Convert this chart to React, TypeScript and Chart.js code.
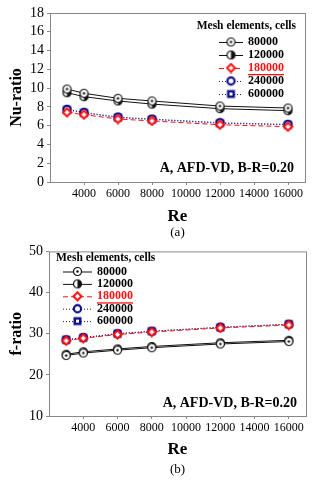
import React, { useEffect, useRef } from 'react';
import { Chart, registerables } from 'chart.js';
Chart.register(...registerables);

const reValues = [3000, 4000, 6000, 8000, 12000, 16000];
const xTickValues = [4000, 6000, 8000, 10000, 12000, 14000, 16000];
const meshLabels = ['80000', '120000', '180000', '240000', '600000'];

const nu80000 = [9.9, 9.45, 8.91, 8.63, 8.09, 7.88];
const nu120000 = [9.51, 9.09, 8.63, 8.3, 7.81, 7.6];
const nu180000 = [7.42, 7.17, 6.71, 6.5, 6.1, 5.89];
const nu240000 = [7.74, 7.42, 6.92, 6.71, 6.32, 6.14];
const nu600000 = [7.68, 7.36, 6.86, 6.65, 6.26, 6.08];

const f80000 = [24.7, 25.3, 26.0, 26.6, 27.5, 28.1];
const f120000 = [25.0, 25.6, 26.3, 26.9, 27.8, 28.4];
const f180000 = [28.3, 28.9, 29.8, 30.4, 31.4, 32.1];
const f240000 = [28.5, 29.1, 30.0, 30.6, 31.6, 32.3];
const f600000 = [28.5, 29.0, 30.0, 30.6, 31.5, 32.3];

const noteText = 'A, AFD-VD, B-R=0.20';
const legendTitle = 'Mesh elements, cells';

const RED = '#ff1010';
const NAVY = '#10108a';
const BLACK = '#111111';
const SERIF = '"Liberation Serif", "Times New Roman", serif';

function makeMarker(kind: string): HTMLCanvasElement {
  const s = 11;
  const c = document.createElement('canvas');
  c.width = s; c.height = s;
  const g = c.getContext('2d')!;
  const cx = 5.5, cy = 5.5;
  if (kind === 'dot') {
    g.beginPath(); g.arc(cx, cy, 4, 0, Math.PI * 2); g.fillStyle = '#fff'; g.fill();
    g.lineWidth = 1.2; g.strokeStyle = BLACK; g.stroke();
    g.beginPath(); g.arc(cx, cy, 1.2, 0, Math.PI * 2); g.fillStyle = BLACK; g.fill();
  } else if (kind === 'half') {
    g.beginPath(); g.arc(cx, cy, 4, 0, Math.PI * 2); g.fillStyle = '#fff'; g.fill();
    g.beginPath(); g.moveTo(cx, cy); g.arc(cx, cy, 4, -Math.PI / 2, Math.PI / 2); g.closePath(); g.fillStyle = BLACK; g.fill();
    g.beginPath(); g.arc(cx, cy, 4, 0, Math.PI * 2); g.lineWidth = 1.2; g.strokeStyle = BLACK; g.stroke();
  } else if (kind === 'diamond') {
    g.beginPath(); g.moveTo(cx, cy - 4); g.lineTo(cx + 4, cy); g.lineTo(cx, cy + 4); g.lineTo(cx - 4, cy); g.closePath();
    g.fillStyle = '#fff'; g.fill(); g.lineWidth = 2; g.strokeStyle = RED; g.stroke();
  } else if (kind === 'ring') {
    g.beginPath(); g.arc(cx, cy, 3.6, 0, Math.PI * 2); g.fillStyle = '#fff'; g.fill();
    g.lineWidth = 2.2; g.strokeStyle = NAVY; g.stroke();
  } else {
    g.fillStyle = NAVY; g.fillRect(cx - 4, cy - 4, 8, 8);
    g.fillStyle = '#fff'; g.fillRect(cx - 1.5, cy - 1.5, 3, 3);
  }
  return c;
}

const frame = {
  id: 'frameLegend',
  afterDraw(chart: any, _a: any, o: any) {
    const { ctx, chartArea: ca } = chart;
    ctx.save();
    ctx.strokeStyle = '#888';
    ctx.lineWidth = 1;
    ctx.strokeRect(ca.left + 0.5, ca.top + 0.5, ca.right - ca.left, ca.bottom - ca.top);
    ctx.fillStyle = '#000';
    ctx.font = 'bold 11.5px ' + SERIF;
    ctx.textBaseline = 'middle';
    ctx.textAlign = o.titleAlign;
    ctx.fillText(legendTitle, o.titleX, o.titleY);
    chart.data.datasets.forEach((ds: any, i: number) => {
      const y = o.rowY0 + i * o.rowGap;
      ctx.save();
      ctx.strokeStyle = ds.borderColor;
      ctx.lineWidth = 1;
      ctx.setLineDash(ds.borderDash || []);
      ctx.beginPath(); ctx.moveTo(o.lineX1, y + 0.5); ctx.lineTo(o.lineX2, y + 0.5); ctx.stroke();
      ctx.restore();
      const img = ds.pointStyle;
      ctx.drawImage(img, (o.lineX1 + o.lineX2) / 2 - img.width / 2, y - img.height / 2);
      ctx.font = 'bold 12px ' + SERIF;
      ctx.textAlign = 'left';
      ctx.fillStyle = i === 2 ? RED : '#000';
      ctx.fillText(ds.label, o.textX, y);
      if (i === 2) {
        const w = ctx.measureText(ds.label).width;
        ctx.fillRect(o.textX, y + 6, w, 1.3);
      }
    });
    ctx.fillStyle = '#000';
    ctx.font = 'bold 14px ' + SERIF;
    ctx.textAlign = 'right';
    ctx.fillText(noteText, o.noteX, o.noteY);
    ctx.font = '13px ' + SERIF;
    ctx.textAlign = 'center';
    ctx.fillText(o.caption, (ca.left + ca.right) / 2, o.captionY);
    ctx.restore();
  },
};

function buildDatasets(series: number[][]) {
  const kinds = ['dot', 'half', 'diamond', 'ring', 'square'];
  const colors = [BLACK, BLACK, RED, NAVY, NAVY];
  const dashes = [[], [], [5, 3], [1, 2], [1, 2]];
  return series.map((vals, i) => ({
    label: meshLabels[i],
    data: vals.map((v, j) => ({ x: reValues[j], y: v })),
    borderColor: colors[i],
    borderWidth: 1,
    borderDash: dashes[i],
    pointStyle: makeMarker(kinds[i]),
    pointRadius: 4,
    fill: false,
    tension: 0,
  }));
}

function PanelChart(props: any) {
  const ref = useRef<HTMLCanvasElement>(null);
  useEffect(() => {
    const p = props;
    const chart = new Chart(ref.current!, {
      type: 'line',
      data: { datasets: buildDatasets(p.series) as any },
      plugins: [frame],
      options: {
        animation: false,
        responsive: false,
        layout: { padding: { top: p.top, right: p.right, left: 0, bottom: 0 } },
        plugins: {
          legend: { display: false },
          tooltip: { enabled: false },
          frameLegend: p.legend,
        } as any,
        scales: {
          x: {
            type: 'linear',
            min: 2000,
            max: 17000,
            afterBuildTicks: (s: any) => { s.ticks = xTickValues.map((v) => ({ value: v })); },
            afterFit: (s: any) => { s.height = p.xHeight; },
            grid: { drawOnChartArea: false, drawTicks: true, tickLength: 3, color: '#888' },
            border: { display: false },
            ticks: { color: '#000', font: { family: SERIF, size: 12 }, padding: 2, maxRotation: 0, autoSkip: false, callback: (v: any) => String(v) },
            title: { display: true, text: 'Re', color: '#000', font: { family: SERIF, size: 17, weight: 'bold' }, padding: { top: 0, bottom: p.reBottom } },
          },
          y: {
            type: 'linear',
            min: p.ymin,
            max: p.ymax,
            ticks: { stepSize: p.ystep, autoSkip: false, color: '#000', font: { family: SERIF, size: 14 }, padding: 3, callback: (v: any) => String(v) },
            afterFit: (s: any) => { s.width = p.yWidth; },
            grid: { drawOnChartArea: false, drawTicks: true, tickLength: 3, color: '#888' },
            border: { display: false },
            title: { display: true, text: p.ytitle, color: '#000', font: { family: SERIF, size: 16, weight: 'bold' }, padding: { top: 7, bottom: 0 } },
          },
        },
      } as any,
    });
    return () => chart.destroy();
  }, []);
  return <canvas ref={ref} width={325} height={240} style={{ display: 'block' }} />;
}

export default function App() {
  return (
    <div style={{ position: 'absolute', left: 0, top: 0, width: 325, height: 480, background: '#fff' }}>
      <PanelChart
        series={[nu80000, nu120000, nu180000, nu240000, nu600000]}
        ymin={0} ymax={18} ystep={2} ytitle="Nu-ratio"
        top={13} right={20} xHeight={58} yWidth={50} reBottom={13}
        legend={{ titleAlign: 'right', titleX: 296, titleY: 26, rowY0: 42, rowGap: 13, lineX1: 219, lineX2: 243, textX: 248, noteX: 294, noteY: 168, caption: '(a)', captionY: 233 }}
      />
      <PanelChart
        series={[f80000, f120000, f180000, f240000, f600000]}
        ymin={10} ymax={50} ystep={10} ytitle="f-ratio"
        top={9} right={19} xHeight={64} yWidth={49} reBottom={20}
        legend={{ titleAlign: 'left', titleX: 56, titleY: 18, rowY0: 31.5, rowGap: 12.4, lineX1: 63, lineX2: 92, textX: 97, noteX: 297, noteY: 163, caption: '(b)', captionY: 230 }}
      />
    </div>
  );
}
